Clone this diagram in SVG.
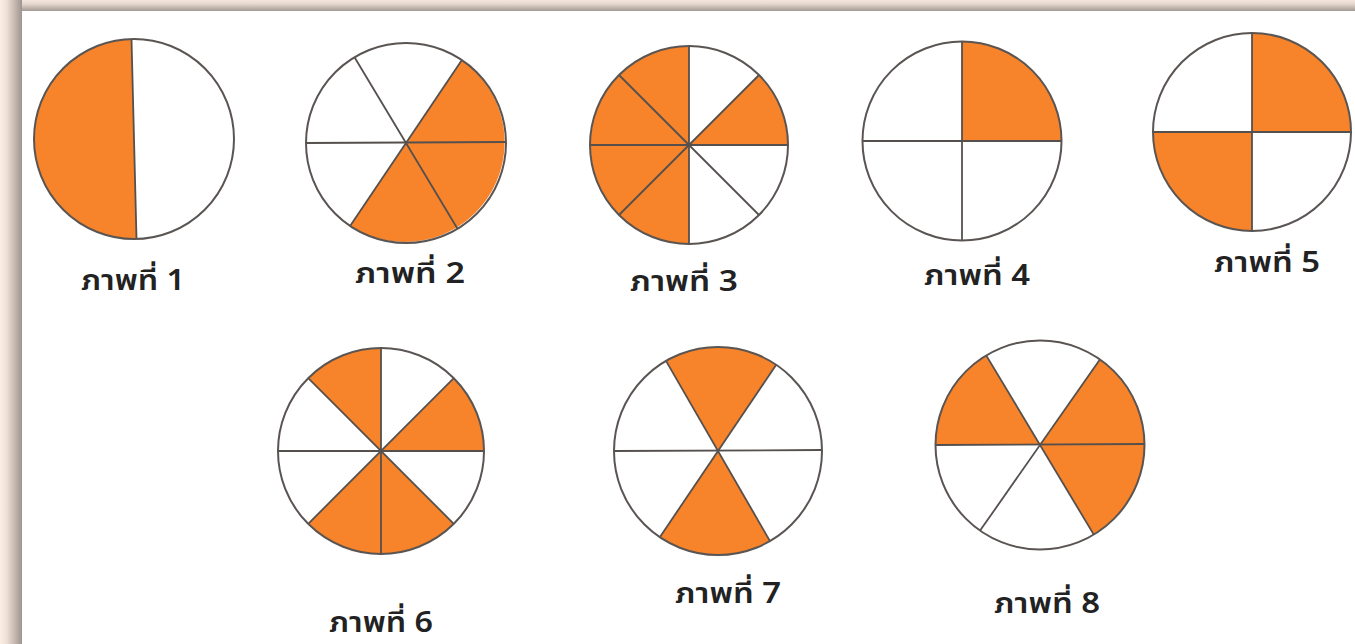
<svg xmlns="http://www.w3.org/2000/svg" width="1355" height="644" viewBox="0 0 1355 644">
<defs>
<linearGradient id="gl" x1="0" y1="0" x2="1" y2="0">
<stop offset="0" stop-color="#fbeee5"/>
<stop offset="0.3" stop-color="#efe0d6"/>
<stop offset="1" stop-color="#9f958f"/>
</linearGradient>
<linearGradient id="gt" x1="0" y1="0" x2="0" y2="1">
<stop offset="0" stop-color="#f4e6dc"/>
<stop offset="0.35" stop-color="#e6d8ce"/>
<stop offset="1" stop-color="#a39a94"/>
</linearGradient>
<style>
.o{fill:#f7842a;stroke:none}
.c{fill:none;stroke:#5a5552;stroke-width:2}
.l{stroke:#55504d;stroke-width:1.8;fill:none}
.t{font-family:"Noto Sans Thai","Noto Sans","DejaVu Sans",sans-serif;font-size:28px;font-weight:600;fill:#222;text-anchor:middle}
</style>
</defs>
<rect x="0" y="0" width="1355" height="644" fill="#ffffff"/>
<rect x="0" y="0" width="1355" height="11" fill="url(#gt)"/>
<rect x="0" y="0" width="22" height="644" fill="url(#gl)"/>
<g id="fig1">
<path class="o" d="M131.5,39 A100,100 0 0 0 136.5,239 Z"/>
<line class="l" x1="131.5" y1="39" x2="136.5" y2="239"/>
<circle class="c" cx="134" cy="139" r="100"/>
<text class="t" x="133" y="290" textLength="104" lengthAdjust="spacingAndGlyphs">ภาพที่ 1</text>
</g>
<g id="fig2">
<path class="o" d="M406,143 L461.9,60.1 A100,100 0 0 1 350.1,225.9 Z"/>
<line class="l" x1="461.9" y1="60.1" x2="350.1" y2="225.9"/>
<line class="l" x1="354.5" y1="57.3" x2="457.5" y2="228.7"/>
<line class="l" x1="306" y1="143" x2="506" y2="142"/>
<circle class="c" cx="406" cy="143" r="100"/>
<text class="t" x="410" y="283" textLength="110" lengthAdjust="spacingAndGlyphs">ภาพที่ 2</text>
</g>
<g id="fig3">
<path class="o" d="M689,46 A99,99 0 0 0 689,244 Z"/>
<path class="o" d="M689,145 L759,75 A99,99 0 0 1 788,145 Z"/>
<line class="l" x1="689" y1="46" x2="689" y2="244"/>
<line class="l" x1="590" y1="145" x2="788" y2="145"/>
<line class="l" x1="759" y1="75" x2="619" y2="215"/>
<line class="l" x1="619" y1="75" x2="759" y2="215"/>
<circle class="c" cx="689" cy="145" r="99"/>
<text class="t" x="684" y="291" textLength="108" lengthAdjust="spacingAndGlyphs">ภาพที่ 3</text>
</g>
<g id="fig4">
<path class="o" d="M962,141 L962,41.5 A99.5,99.5 0 0 1 1061.5,141 Z"/>
<line class="l" x1="962" y1="41.5" x2="962" y2="240.5"/>
<line class="l" x1="862.5" y1="141" x2="1061.5" y2="141"/>
<circle class="c" cx="962" cy="141" r="99.5"/>
<text class="t" x="977" y="285" textLength="106" lengthAdjust="spacingAndGlyphs">ภาพที่ 4</text>
</g>
<g id="fig5">
<path class="o" d="M1252,132 L1252,33 A99,99 0 0 1 1351,132 Z"/>
<path class="o" d="M1252,132 L1252,231 A99,99 0 0 1 1153,132 Z"/>
<line class="l" x1="1252" y1="33" x2="1252" y2="231"/>
<line class="l" x1="1153" y1="132" x2="1351" y2="132"/>
<circle class="c" cx="1252" cy="132" r="99"/>
<text class="t" x="1267" y="272" textLength="106" lengthAdjust="spacingAndGlyphs">ภาพที่ 5</text>
</g>
<g id="fig6">
<path class="o" d="M381,451 L308.2,378.2 A103,103 0 0 1 381,348 Z"/>
<path class="o" d="M381,451 L453.8,378.2 A103,103 0 0 1 484,451 Z"/>
<path class="o" d="M381,451 L453.8,523.8 A103,103 0 0 1 308.2,523.8 Z"/>
<line class="l" x1="381" y1="348" x2="381" y2="554"/>
<line class="l" x1="278" y1="451" x2="484" y2="451"/>
<line class="l" x1="308.2" y1="378.2" x2="453.8" y2="523.8"/>
<line class="l" x1="453.8" y1="378.2" x2="308.2" y2="523.8"/>
<circle class="c" cx="381" cy="451" r="103"/>
<text class="t" x="381" y="632" textLength="104" lengthAdjust="spacingAndGlyphs">ภาพที่ 6</text>
</g>
<g id="fig7">
<path class="o" d="M718,451 L666,360.9 A104,104 0 0 1 776.2,364.8 Z"/>
<path class="o" d="M718,451 L770,541.1 A104,104 0 0 1 659.8,537.2 Z"/>
<line class="l" x1="666" y1="360.9" x2="770" y2="541.1"/>
<line class="l" x1="776.2" y1="364.8" x2="659.8" y2="537.2"/>
<line class="l" x1="614" y1="451" x2="822" y2="450"/>
<circle class="c" cx="718" cy="451" r="104"/>
<text class="t" x="728" y="603" textLength="106" lengthAdjust="spacingAndGlyphs">ภาพที่ 7</text>
</g>
<g id="fig8">
<path class="o" d="M1040,445 L935.5,445 A104.5,104.5 0 0 1 986.2,355.4 Z"/>
<path class="o" d="M1040,445 L1099.9,359.4 A104.5,104.5 0 0 1 1093.8,534.6 Z"/>
<line class="l" x1="986.2" y1="355.4" x2="1093.8" y2="534.6"/>
<line class="l" x1="1099.9" y1="359.4" x2="980.1" y2="530.6"/>
<line class="l" x1="935.5" y1="445" x2="1144.5" y2="444"/>
<circle class="c" cx="1040" cy="445" r="104.5"/>
<text class="t" x="1047" y="613" textLength="106" lengthAdjust="spacingAndGlyphs">ภาพที่ 8</text>
</g>
</svg>
